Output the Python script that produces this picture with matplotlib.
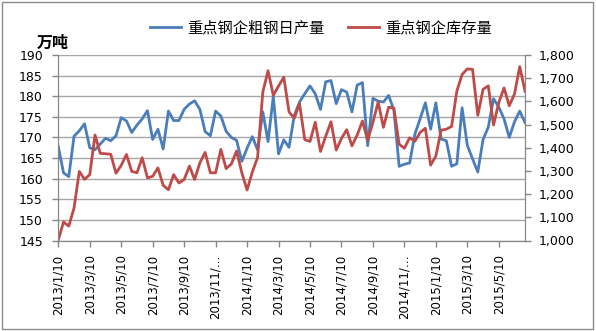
import numpy as np
import matplotlib.pyplot as plt
from matplotlib.patches import Rectangle
from matplotlib.ticker import FuncFormatter

plt.rcParams['font.family'] = ['Noto Sans CJK SC', 'DejaVu Sans']

# ten-day periods from 2013/1/10 to 2015/6/30
years = [2013, 2014, 2015]
days = [10, 20, 30]
periods = []
for y in years:
    for m in range(1, 13):
        for d in days:
            periods.append('%d/%d/%d' % (y, m, d))
periods = periods[:90]

# daily crude steel output of key mills (10k t)
output = [167.8, 161.4, 160.5, 170.3, 171.6, 173.3, 167.5, 167.0, 168.4, 169.8,
          169.2, 170.4, 174.8, 174.0, 171.2, 173.0, 174.5, 176.5, 169.5, 172.0,
          167.2, 176.4, 174.1, 174.1, 176.8, 178.1, 178.9, 176.8, 171.4, 170.4,
          176.4, 175.2, 171.5, 170.0, 169.3, 164.2, 167.4, 170.2, 167.0, 176.2,
          169.0, 180.0, 166.0, 169.4, 167.6, 175.3, 178.6, 180.6, 182.5, 180.6,
          176.8, 183.5, 183.8, 178.2, 181.6, 181.0, 176.2, 182.7, 183.3, 168.0,
          179.5, 178.8, 178.6, 180.2, 176.6, 163.0, 163.5, 163.8, 170.8, 174.5,
          178.4, 172.0, 178.4, 169.6, 169.2, 163.0, 163.6, 177.2, 168.1, 164.8,
          161.6, 169.5, 172.5, 179.4, 177.4, 174.5, 170.0, 173.8, 176.4, 173.6]

# stocks held by key mills (10k t)
stock = [1003, 1080, 1062, 1140, 1298, 1264, 1284, 1455, 1376, 1374,
         1372, 1290, 1324, 1371, 1298, 1292, 1357, 1270, 1277, 1313,
         1238, 1219, 1284, 1248, 1263, 1321, 1263, 1335, 1380, 1292,
         1292, 1393, 1310, 1330, 1386, 1292, 1218, 1295, 1358, 1640,
         1732, 1626, 1666, 1704, 1555, 1527, 1590, 1435, 1427, 1510,
         1384, 1450, 1512, 1390, 1440, 1478, 1408, 1455, 1515, 1432,
         1510, 1597, 1488, 1575, 1571, 1415, 1398, 1443, 1428, 1466,
         1484, 1325, 1364, 1476, 1480, 1492, 1644, 1716, 1740, 1738,
         1540, 1652, 1667, 1498, 1595, 1658, 1581, 1632, 1750, 1644]

xlabels = ['2013/1/10', '2013/3/10', '2013/5/10', '2013/7/10', '2013/9/10',
           '2013/11/…', '2014/1/10', '2014/3/10', '2014/5/10', '2014/7/10',
           '2014/9/10', '2014/11/…', '2015/1/10', '2015/3/10', '2015/5/10']

blue = '#4a7ebb'
red = '#be4b48'
axis_gray = '#868686'

fig = plt.figure(figsize=(5.96, 3.31), dpi=100)
ax = fig.add_axes([58.3 / 596, 1 - 240.5 / 331, (525 - 58.3) / 596, (240.5 - 55) / 331])
ax2 = ax.twinx()

x = np.arange(len(periods))
l1, = ax.plot(x, output, color=blue, lw=2.0, label='重点钢企粗钢日产量')
l2, = ax2.plot(x, stock, color=red, lw=2.0, label='重点钢企库存量')

ax.set_xlim(0, len(periods) - 1)
ax.set_ylim(145, 190)
ax.set_yticks(np.arange(145, 191, 5))
ax2.set_ylim(1000, 1800)
ax2.set_yticks(np.arange(1000, 1801, 100))
ax2.yaxis.set_major_formatter(FuncFormatter(lambda v, p: '{:,.0f}'.format(v)))

ax.set_xticks(x[::6])
ax.set_xticklabels(xlabels, rotation=90, fontsize=8.5, family='DejaVu Sans')

ax.grid(axis='y', color='#a6a6a6', lw=1)
ax.set_axisbelow(True)
for a in (ax, ax2):
    a.spines['top'].set_visible(False)
    for s in ('left', 'right', 'bottom'):
        a.spines[s].set_color(axis_gray)
    a.tick_params(colors=axis_gray, labelcolor='black', length=4, width=1)
ax.tick_params(axis='y', labelsize=9, pad=7)
ax2.tick_params(axis='y', labelsize=9, pad=6)
ax.tick_params(axis='x', pad=6)
for t in ax.get_yticklabels() + ax2.get_yticklabels():
    t.set_family('DejaVu Sans')

fig.text(53 / 596, 1 - 43 / 331, '万吨', fontsize=11.5, fontweight='bold',
         ha='center', va='center')

fig.legend(handles=[l1, l2], loc='center', bbox_to_anchor=(321 / 596, 1 - 28 / 331),
           ncol=2, frameon=False, fontsize=11, handlelength=2.0,
           columnspacing=1.6, handletextpad=0.4)

fig.patches.append(Rectangle((0.004, 0.006), 0.991, 0.988, transform=fig.transFigure,
                             fill=False, edgecolor='#8c8c8c', lw=1))

fig.savefig('out.png', dpi=100)
